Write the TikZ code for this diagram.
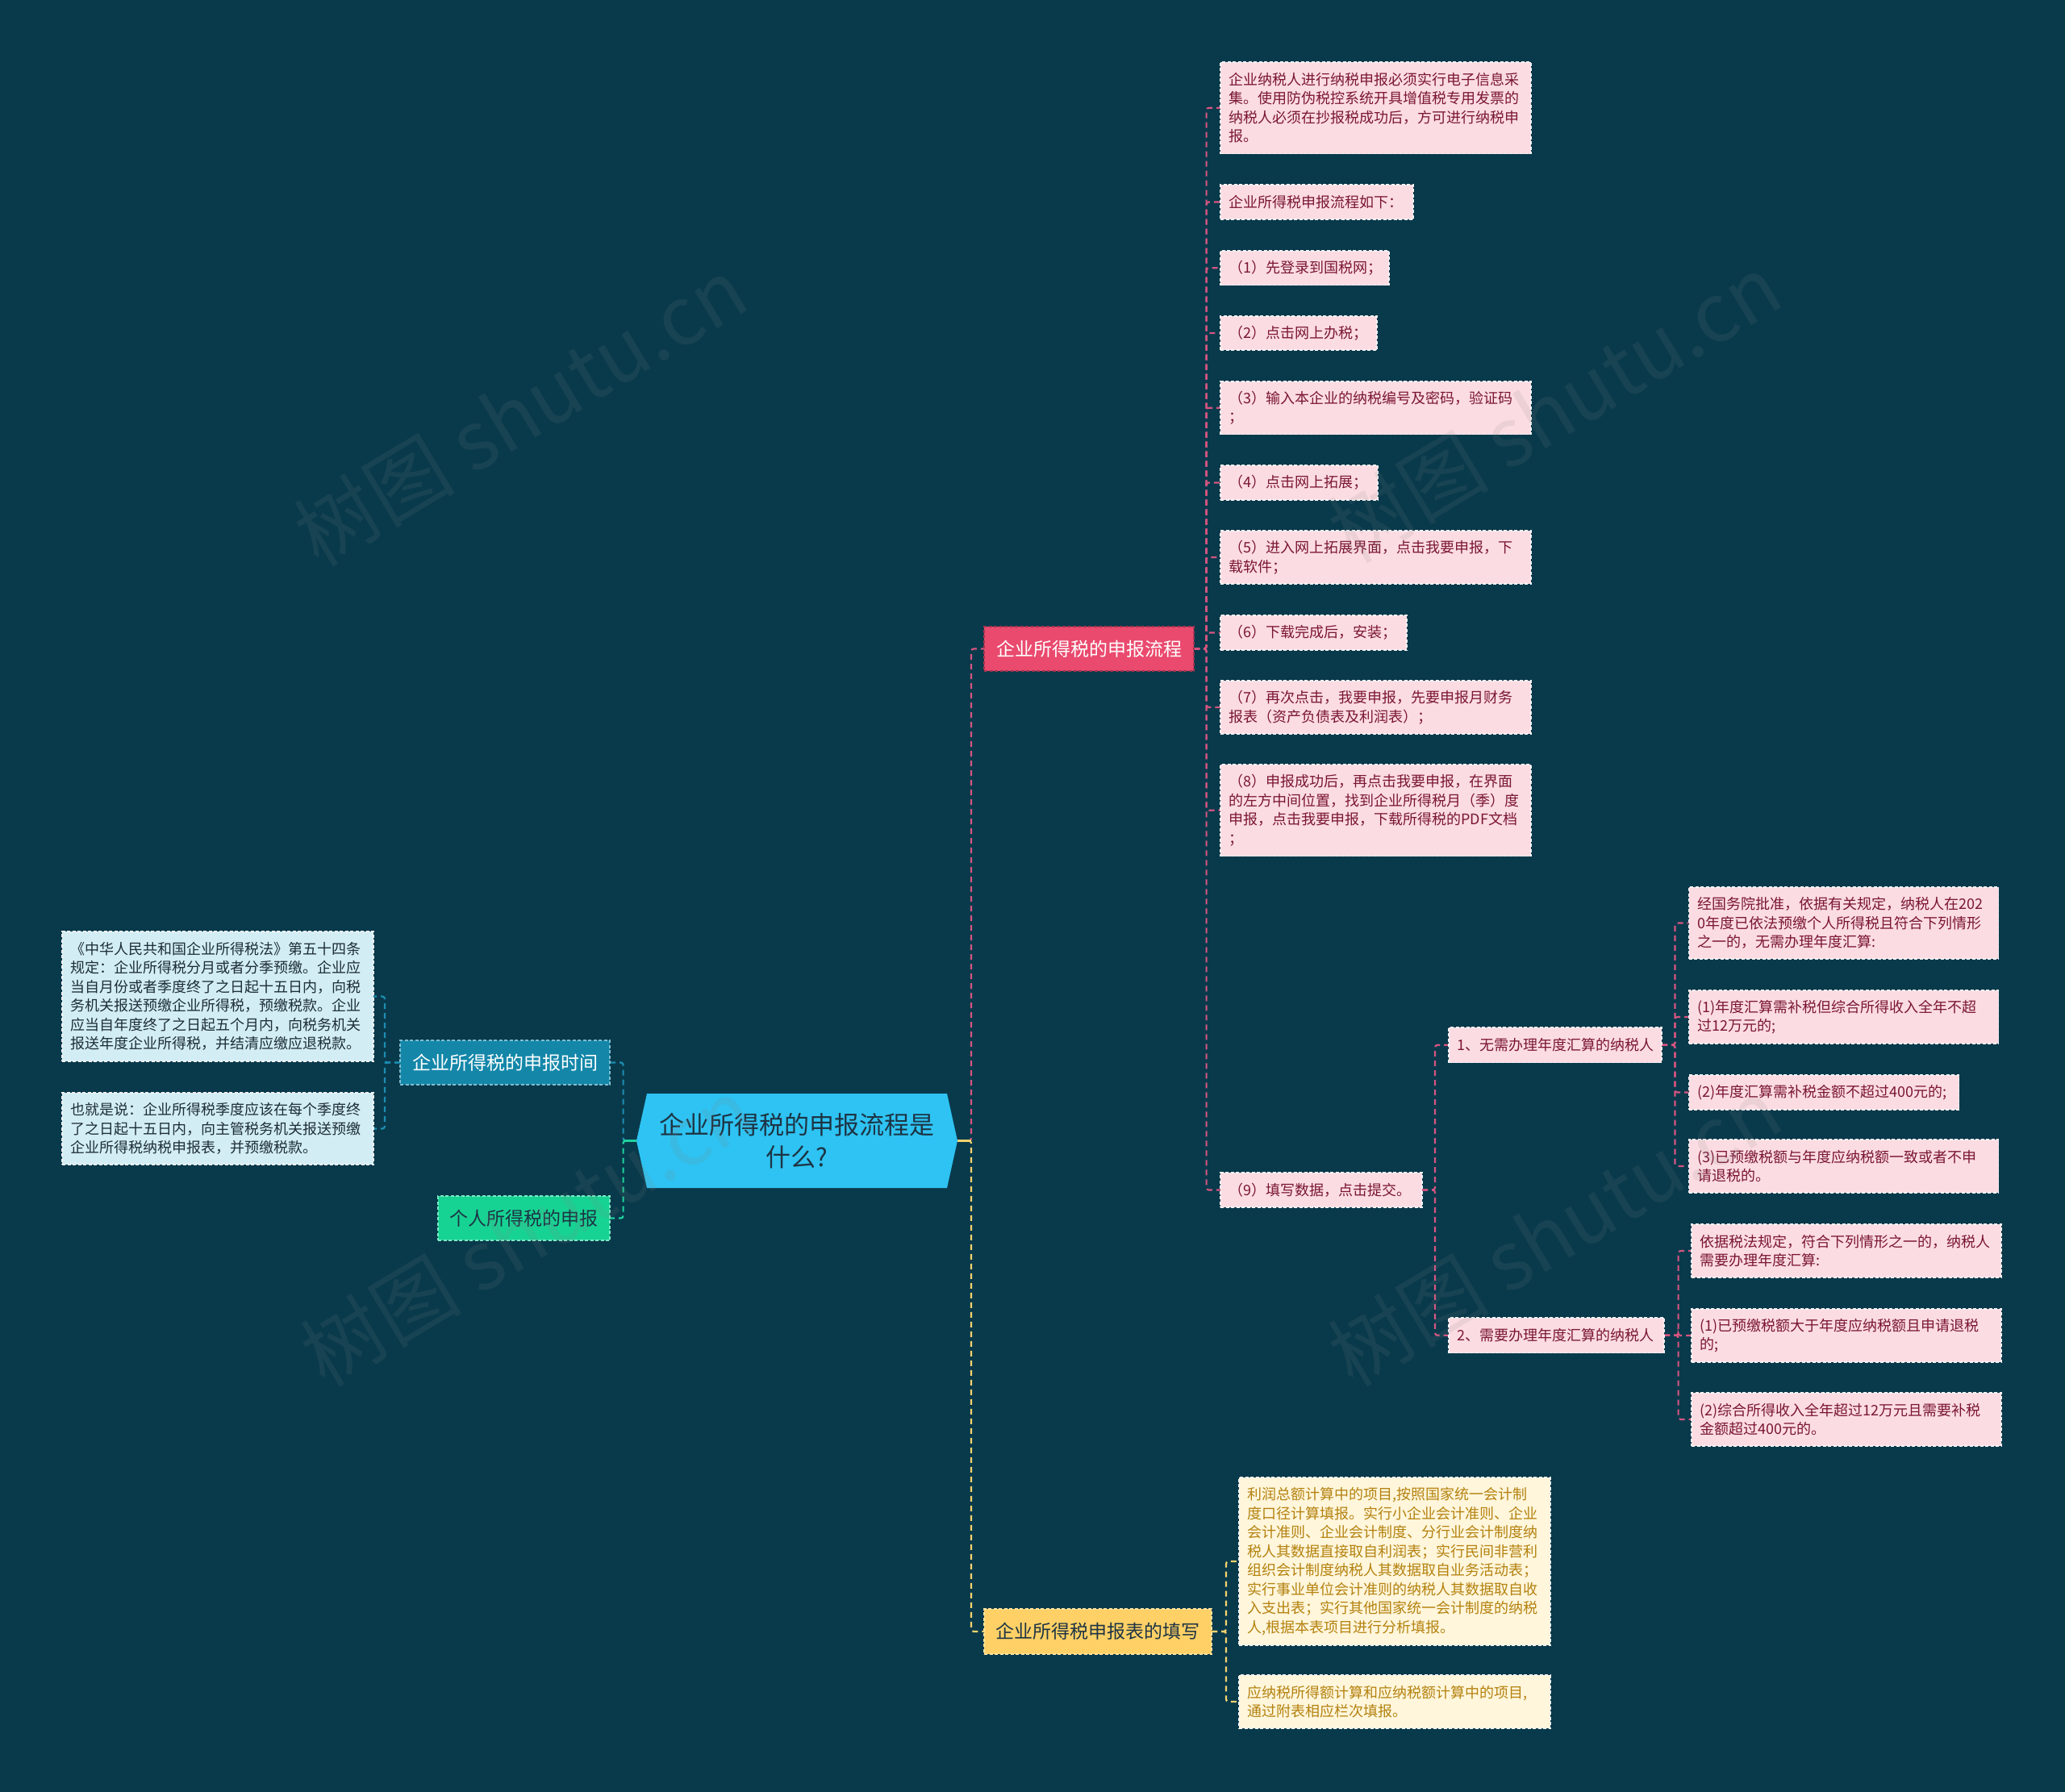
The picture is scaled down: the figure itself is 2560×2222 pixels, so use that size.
\documentclass[tikz,border=0pt]{standalone}
\usepackage{fontspec}
\newfontfamily\cjk{Noto Sans CJK SC}
\usetikzlibrary{calc}
\pgfdeclarelayer{canvas}
\pgfdeclarelayer{back}
\pgfdeclarelayer{wm}
\pgfsetlayers{canvas,back,main,wm}
\definecolor{bg}{HTML}{093A4C}
\definecolor{rootf}{HTML}{2EC3F2}
\definecolor{darkt}{HTML}{1D3444}
\definecolor{timef}{HTML}{1487A9}
\definecolor{persf}{HTML}{17D393}
\definecolor{pinkf}{HTML}{EA4A6E}
\definecolor{yelf}{HTML}{FFD066}
\definecolor{pboxf}{HTML}{FCDCE3}
\definecolor{pboxt}{HTML}{7A1633}
\definecolor{lboxf}{HTML}{D3EDF5}
\definecolor{lboxt}{HTML}{1D2E38}
\definecolor{yboxf}{HTML}{FFF6DB}
\definecolor{yboxt}{HTML}{B4820F}
\definecolor{pconnc}{HTML}{D5557F}
\definecolor{bconnc}{HTML}{1C8DB1}
\definecolor{gconnc}{HTML}{1ED39D}
\definecolor{yconnc}{HTML}{F6D36E}
\tikzset{
  conn/.style={line width=2.2pt, dash pattern=on 7pt off 5pt, rounded corners=3pt},
  pconn/.style={conn, draw=pconnc},
  bconn/.style={conn, draw=bconnc},
  gconn/.style={conn, draw=gconnc},
  yconn/.style={conn, draw=yconnc},
  sbox/.style 2 args={rectangle, anchor=north west, inner xsep=10.5pt, inner ysep=0pt,
    outer sep=0pt, align=left, text width=#1pt, minimum height=#2pt,
    font={\cjk\fontsize{18}{23.5}\selectfont}, line width=1.2pt,
    dash pattern=on 4pt off 2.5pt},
  pbox/.style 2 args={sbox={#1}{#2}, fill=pboxf, draw=white!90!gray, text=pboxt},
  lbox/.style 2 args={sbox={#1}{#2}, fill=lboxf, draw=white!90!gray, text=lboxt},
  ybox/.style 2 args={sbox={#1}{#2}, fill=yboxf, draw=white!90!gray, text=yboxt},
  mnode/.style={rectangle, inner sep=0pt, outer sep=0pt, align=center,
    font={\cjk\fontsize{23}{28}\selectfont}, line width=1.2pt,
    dash pattern=on 4pt off 2.5pt},
  rootn/.style={rectangle, inner sep=0pt, outer sep=0pt, align=center,
    font={\cjk\fontsize{31}{40}\selectfont}, text=darkt},
  wmark/.style={font={\cjk\fontsize{100}{110}\selectfont}, text=gray, opacity=0.13, rotate=31},
}
\begin{document}
\begin{tikzpicture}[x=1pt,y=-1pt]
\begin{pgfonlayer}{canvas}
\fill[bg] (0,0) rectangle (2560,2222);
\end{pgfonlayer}
\useasboundingbox (0,0) rectangle (2560,2222);

% main nodes
\node[rootn, minimum width=398pt, minimum height=117pt] (root) at (988,1414.5) {企业所得税的申报流程是\\什么?};
\node[mnode, fill=timef, draw=white!45!timef, text=white, minimum width=260pt, minimum height=55pt] (time) at (626,1317.5) {企业所得税的申报时间};
\node[mnode, fill=persf, draw=white!45!persf, text=darkt, minimum width=213pt, minimum height=55pt] (pers) at (649.5,1510.5) {个人所得税的申报};
\node[mnode, fill=pinkf, draw=pinkf!70!black, text=white, minimum width=260pt, minimum height=55pt] (pnode) at (1350,804.5) {企业所得税的申报流程};
\node[mnode, fill=yelf, draw=white!40!yelf, text=darkt, minimum width=282pt, minimum height=56pt] (ynode) at (1361,2023) {企业所得税申报表的填写};

% left boxes
\node[lbox={365}{161}] (l1) at (77,1155) {《中华人民共和国企业所得税法》第五十四条\\规定：企业所得税分月或者分季预缴。企业应\\当自月份或者季度终了之日起十五日内，向税\\务机关报送预缴企业所得税，预缴税款。企业\\应当自年度终了之日起五个月内，向税务机关\\报送年度企业所得税，并结清应缴应退税款。};
\node[lbox={365}{89}] (l2) at (77,1355) {也就是说：企业所得税季度应该在每个季度终\\了之日起十五日内，向主管税务机关报送预缴\\企业所得税纳税申报表，并预缴税款。};

% pink children
\node[pbox={364}{113.5}] (p1) at (1513,77) {企业纳税人进行纳税申报必须实行电子信息采\\集。使用防伪税控系统开具增值税专用发票的\\纳税人必须在抄报税成功后，方可进行纳税申\\报。};
\node[pbox={218}{43}] (p2) at (1513,229) {企业所得税申报流程如下：};
\node[pbox={188}{42.5}] (p3) at (1513,311) {（1）先登录到国税网；};
\node[pbox={173}{42}] (p4) at (1513,392) {（2）点击网上办税；};
\node[pbox={364}{65.5}] (p5) at (1513,473) {（3）输入本企业的纳税编号及密码，验证码\\；};
\node[pbox={174}{43}] (p6) at (1513,577) {（4）点击网上拓展；};
\node[pbox={364}{66}] (p7) at (1513,658) {（5）进入网上拓展界面，点击我要申报，下\\载软件；};
\node[pbox={210}{43}] (p8) at (1513,763) {（6）下载完成后，安装；};
\node[pbox={364}{66}] (p9) at (1513,844) {（7）再次点击，我要申报，先要申报月财务\\报表（资产负债表及利润表）；};
\node[pbox={364}{113.5}] (p10) at (1513,948) {（8）申报成功后，再点击我要申报，在界面\\的左方中间位置，找到企业所得税月（季）度\\申报，点击我要申报，下载所得税的PDF文档\\；};
\node[pbox={229}{43}] (p11) at (1513,1454) {（9）填写数据，点击提交。};

% sub branches
\node[pbox={243}{43.5}] (n1) at (1796,1274) {1、无需办理年度汇算的纳税人};
\node[pbox={246}{43.5}] (n2) at (1796,1634) {2、需要办理年度汇算的纳税人};
\node[pbox={363}{89}] (a) at (2093.5,1100) {经国务院批准，依据有关规定，纳税人在202\\0年度已依法预缴个人所得税且符合下列情形\\之一的，无需办理年度汇算:};
\node[pbox={363}{66}] (b) at (2093.5,1228) {(1)年度汇算需补税但综合所得收入全年不超\\过12万元的;};
\node[pbox={314}{43}] (c) at (2093.5,1333) {(2)年度汇算需补税金额不超过400元的;};
\node[pbox={363}{66}] (d) at (2093.5,1413) {(3)已预缴税额与年度应纳税额一致或者不申\\请退税的。};
\node[pbox={363}{66}] (e) at (2097,1518) {依据税法规定，符合下列情形之一的，纳税人\\需要办理年度汇算:};
\node[pbox={363}{66}] (f) at (2097,1623) {(1)已预缴税额大于年度应纳税额且申请退税\\的;};
\node[pbox={363}{66}] (g) at (2097,1727) {(2)综合所得收入全年超过12万元且需要补税\\金额超过400元的。};

% yellow children
\node[ybox={365}{208}] (y1) at (1536,1832) {利润总额计算中的项目,按照国家统一会计制\\度口径计算填报。实行小企业会计准则、企业\\会计准则、企业会计制度、分行业会计制度纳\\税人其数据直接取自利润表；实行民间非营利\\组织会计制度纳税人其数据取自业务活动表；\\实行事业单位会计准则的纳税人其数据取自收\\入支出表；实行其他国家统一会计制度的纳税\\人,根据本表项目进行分析填报。};
\node[ybox={365}{66}] (y2) at (1536,2077) {应纳税所得额计算和应纳税额计算中的项目,\\通过附表相应栏次填报。};

\begin{pgfonlayer}{back}
\fill[rootf] (root.west) -- ([xshift=13pt]root.north west) -- ([xshift=-13pt]root.north east)
  -- (root.east) -- ([xshift=-13pt]root.south east) -- ([xshift=13pt]root.south west) -- cycle;
% root connectors
\draw[bconn] (root.west) -- ++(-16.4,0) |- (time.east);
\draw[gconn] (root.west) -- ++(-16.4,0) |- (pers.east);
\draw[line width=2.2pt, gconnc] (root.west) -- ++(-16.4,0);
\draw[pconn] (root.east) -- ++(17,0) |- (pnode.west);
\draw[yconn] (root.east) -- ++(17,0) |- (ynode.west);
\draw[line width=2.2pt, yconnc] (root.east) -- ++(17,0);
% time
\foreach \c in {l1,l2} \draw[bconn] (time.west) -- ++(-19,0) |- (\c.east);
% pink
\foreach \c in {p1,p2,p3,p4,p5,p6,p7,p8,p9,p10,p11} \draw[pconn] (pnode.east) -- ++(15.6,0) |- (\c.west);
\foreach \c in {n1,n2} \draw[pconn] (p11.east) -- ++(16,0) |- (\c.west);
\foreach \c in {a,b,c,d} \draw[pconn] (n1.east) -- ++(16.5,0) |- (\c.west);
\foreach \c in {e,f,g} \draw[pconn] (n2.east) -- ++(17.6,0) |- (\c.west);
% yellow
\foreach \c in {y1,y2} \draw[yconn] (ynode.east) -- ++(18,0) |- (\c.west);
\end{pgfonlayer}

\begin{pgfonlayer}{wm}
\node[wmark] (wm1) at (645,510) {树图 shutu.cn};
\node[wmark] (wm2) at (1927,506) {树图 shutu.cn};
\node[wmark] (wm3) at (653,1527) {树图 shutu.cn};
\node[wmark] (wm4) at (1927,1527) {树图 shutu.cn};
\end{pgfonlayer}
\end{tikzpicture}
\end{document}
